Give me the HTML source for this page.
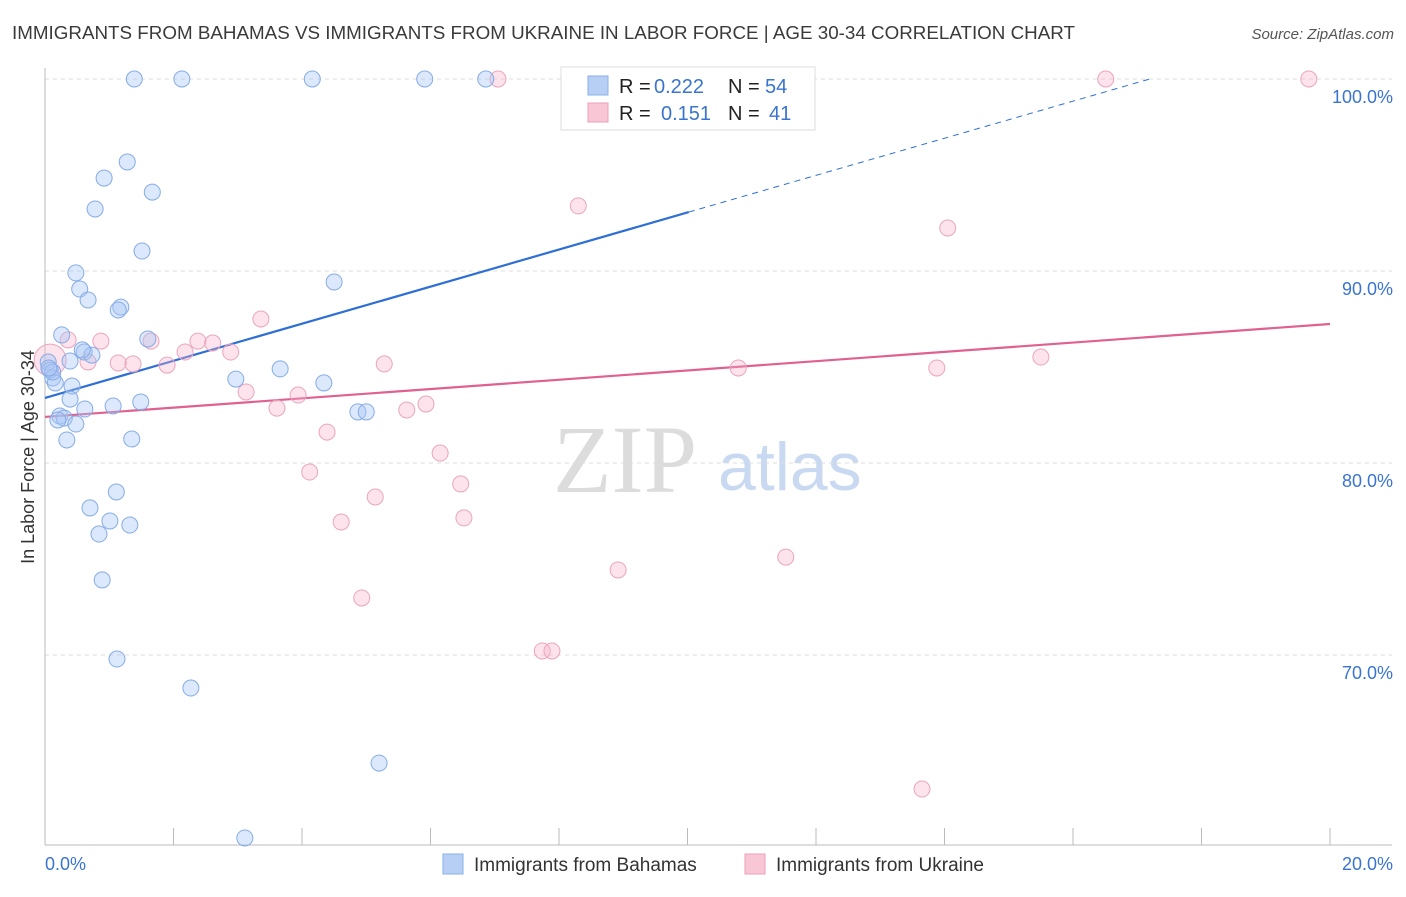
<!DOCTYPE html>
<html><head><meta charset="utf-8"><style>
body{margin:0;background:#fff;font-family:"Liberation Sans",sans-serif;}
</style></head><body>
<svg id="chart" width="1406" height="892" xmlns="http://www.w3.org/2000/svg" style="font-family:'Liberation Sans',sans-serif">
<text x="12" y="39" font-size="18" fill="#3a3a3a" textLength="1063" lengthAdjust="spacingAndGlyphs">IMMIGRANTS FROM BAHAMAS VS IMMIGRANTS FROM UKRAINE IN LABOR FORCE | AGE 30-34 CORRELATION CHART</text>
<text x="1394" y="39" font-size="15" fill="#555" text-anchor="end" font-style="italic">Source: ZipAtlas.com</text>
<text x="553" y="492" font-size="96" fill="#dcdcdc" font-family="Liberation Serif,serif">ZIP</text>
<text x="718" y="490" font-size="68" fill="#c8d9f1">atlas</text>
<text transform="translate(34,457) rotate(-90)" font-size="18" fill="#333" text-anchor="middle">In Labor Force | Age 30-34</text>
<g id="grid"></g><g id="axes"></g><g id="trends"></g><g id="pts"></g>
<g>
<rect x="561" y="67" width="254" height="63" fill="#fff" stroke="#ddd"/>
<rect x="588" y="76" width="20" height="19" fill="#b7cff5" stroke="#8ab0e8"/>
<rect x="588" y="103" width="20" height="19" fill="#f9c6d6" stroke="#eaa0bb"/>
<text x="619" y="93" font-size="20" fill="#222">R =</text>
<text x="654" y="93" font-size="20" fill="#3a74d0">0.222</text>
<text x="728" y="93" font-size="20" fill="#222">N =</text>
<text x="765" y="93" font-size="20" fill="#3a74d0">54</text>
<text x="619" y="120" font-size="20" fill="#222">R =</text>
<text x="661" y="120" font-size="20" fill="#3a74d0">0.151</text>
<text x="728" y="120" font-size="20" fill="#222">N =</text>
<text x="769" y="120" font-size="20" fill="#3a74d0">41</text>
</g>
<g>
<rect x="443" y="854" width="20" height="20" fill="#b7cff5" stroke="#8ab0e8"/>
<text x="474" y="871" font-size="19" fill="#333">Immigrants from Bahamas</text>
<rect x="745" y="854" width="20" height="20" fill="#f9c6d6" stroke="#eaa0bb"/>
<text x="776" y="871" font-size="19" fill="#333">Immigrants from Ukraine</text>
</g>
</svg>
<script>
const blueX=[1.39,2.13,4.16,5.91,6.86,1.28,0.92,1.67,0.78,1.51,0.48,0.54,0.67,1.18,1.14,4.50,0.26,1.60,0.61,0.73,0.39,0.05,0.08,0.12,0.16,0.42,2.97,3.66,4.34,0.39,0.62,1.06,1.49,0.23,0.30,0.20,0.48,4.87,5.00,0.34,1.35,1.11,0.70,1.01,1.32,0.84,0.89,1.12,2.27,5.20,3.11,0.12,0.06,0.58];
const blueY=[100,100,100,100,100,95.68,94.84,94.11,93.23,91.04,89.90,89.06,88.49,88.12,87.97,89.43,86.67,86.46,85.78,85.62,85.31,85.26,84.84,84.43,84.17,84.01,84.37,84.90,84.17,83.33,82.81,82.97,83.18,82.45,82.34,82.24,82.03,82.66,82.66,81.20,81.25,78.49,77.66,76.98,76.77,76.30,73.91,69.79,68.28,64.37,60.47,84.74,84.95,85.89];
const pinkX=[7.05,16.51,19.67,10.23,8.30,14.05,3.36,0.36,0.87,1.65,2.38,2.61,2.18,2.89,0.67,1.14,1.37,1.90,5.28,10.79,13.88,15.50,3.13,3.94,3.61,5.63,5.93,4.39,6.15,4.12,6.47,5.14,6.52,4.61,11.53,8.92,4.93,7.74,7.89,13.65,0.08];
const pinkY=[100,100,100,100,93.39,92.24,87.5,86.41,86.35,86.35,86.35,86.25,85.78,85.78,85.26,85.21,85.16,85.10,85.16,84.95,84.95,85.52,83.70,83.54,82.86,82.76,83.07,81.61,80.52,79.53,78.91,78.23,77.14,76.93,75.10,74.43,72.97,70.21,70.21,63.02,85.36];
const yTicks=[100,90,80,70];
const yTickLabels=["100.0%","90.0%","80.0%","70.0%"];
const blueTrend=[83.39,0.966]; // intercept, slope
const pinkTrend=[82.40,0.242];
const NS="http://www.w3.org/2000/svg";
const X=v=>45+v/20*1285, Y=v=>79+(100-v)*19.2;
function mk(t,a,p){const e=document.createElementNS(NS,t);for(const k in a)e.setAttribute(k,a[k]);document.getElementById(p).appendChild(e);return e;}
yTicks.forEach((t,i)=>{
 const g=mk('line',{x1:45,x2:1392,y1:Y(t),y2:Y(t),stroke:'#ddd','stroke-dasharray':'4,4'},'grid');
 
 
 const l=mk('text',{x:1393,y:Y(t)+24,'font-size':18,fill:'#3a74d0','text-anchor':'end'},'grid');
 l.textContent=yTickLabels[i];
 
 
});
let ax=mk('line',{x1:45,x2:1392,y1:845,y2:845,stroke:'#bbb'},'axes');


let ay=mk('line',{x1:45,x2:45,y1:68,y2:845,stroke:'#bbb'},'axes');


for(let i=1;i<=10;i++){const t=mk('line',{x1:X(i*2),x2:X(i*2),y1:828,y2:845,stroke:'#bbb'},'axes');
 
 }
[[0,"0.0%","start",45],[20,"20.0%","end",1393]].forEach(d=>{const t=mk('text',{x:d[3],y:870,'font-size':18,fill:'#3a74d0','text-anchor':d[2]},'axes');t.textContent=d[1];
 
 });
const bx1=10.02,bx2=(100-blueTrend[0])/blueTrend[1];
let b1=mk('line',{x1:X(0),y1:Y(blueTrend[0]),x2:X(bx1),y2:Y(blueTrend[0]+blueTrend[1]*bx1),stroke:'#2e6fd6','stroke-width':2.2},'trends');


let b2=mk('line',{x1:X(bx1),y1:Y(blueTrend[0]+blueTrend[1]*bx1),x2:X(bx2),y2:Y(100),stroke:'#2e6fd6','stroke-width':1,'stroke-dasharray':'6,5'},'trends');


let p1=mk('line',{x1:X(0),y1:Y(pinkTrend[0]),x2:X(20),y2:Y(pinkTrend[0]+pinkTrend[1]*20),stroke:'#e0608f','stroke-width':2.2},'trends');


pinkX.forEach((v,i)=>{const c=mk('circle',{cx:X(v),cy:Y(pinkY[i]),r:i==pinkX.length-1?16:8,fill:'rgba(246,175,200,0.35)',stroke:'#eba5be','stroke-width':1},'pts');
 
 });
blueX.forEach((v,i)=>{const c=mk('circle',{cx:X(v),cy:Y(blueY[i]),r:8,fill:'rgba(168,198,245,0.4)',stroke:'#86ace6','stroke-width':1},'pts');
 
 });
</script>
</body></html>
